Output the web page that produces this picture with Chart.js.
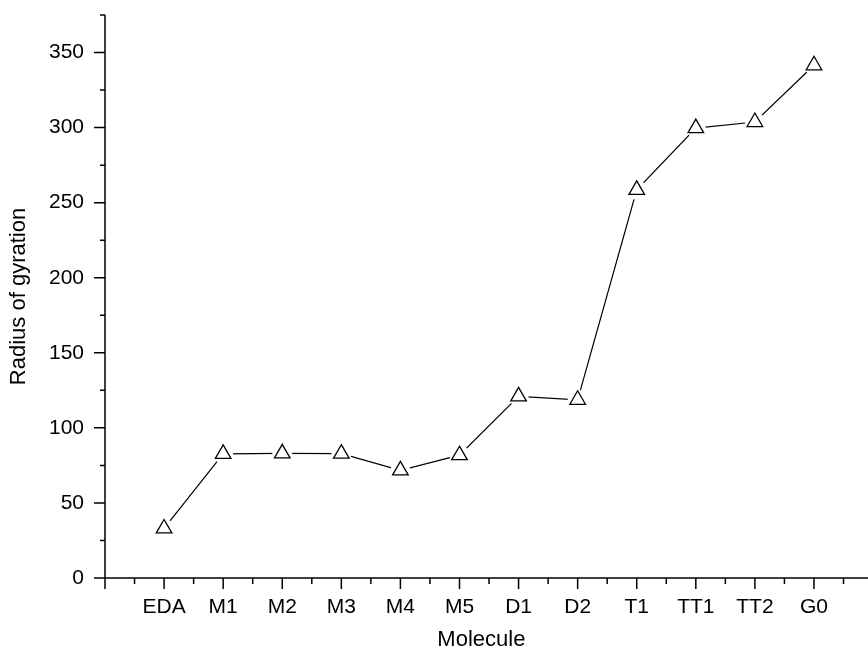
<!DOCTYPE html>
<html>
<head>
<meta charset="utf-8">
<script src="https://cdn.jsdelivr.net/npm/chart.js@4/dist/chart.umd.min.js"></script>
<style>
  html, body { margin: 0; padding: 0; background: #ffffff; }
  canvas { display: block; }
</style>
</head>
<body>
<canvas id="chart" width="868" height="650"></canvas>
<script>
// Radius of gyration for each molecule in the series
const molecules = ['EDA', 'M1', 'M2', 'M3', 'M4', 'M5', 'D1', 'D2', 'T1', 'TT1', 'TT2', 'G0'];
const radiusOfGyration = [33, 82.7, 83, 82.8, 71.7, 81.8, 121, 118.7, 258.5, 299.7, 303.7, 341.5];
const yMajorTicks = [0, 50, 100, 150, 200, 250, 300, 350];
const yMinorTicks = [25, 75, 125, 175, 225, 275, 325, 375];

const FONT = '"Liberation Sans", Arial, Helvetica, sans-serif';
const points = molecules.map((_, i) => ({ x: i, y: radiusOfGyration[i] }));

// Axis lines with outward major/minor tick marks, drawn from the chart's scales
const axisFrame = {
  id: 'axisFrame',
  afterDraw(chart) {
    const { ctx, scales: { x, y } } = chart;
    const x0 = x.getPixelForValue(-1);
    const y0 = y.getPixelForValue(0);
    const yTop = y.getPixelForValue(375);
    const xEnd = chart.width;
    ctx.save();
    ctx.strokeStyle = '#000000';
    ctx.lineWidth = 1.5;
    ctx.beginPath();
    ctx.moveTo(x0, yTop); ctx.lineTo(x0, y0);
    ctx.moveTo(x0, y0); ctx.lineTo(xEnd, y0);
    yMajorTicks.forEach(v => {
      const py = y.getPixelForValue(v);
      ctx.moveTo(x0 - 11, py); ctx.lineTo(x0, py);
    });
    yMinorTicks.forEach(v => {
      const py = y.getPixelForValue(v);
      ctx.moveTo(x0 - 5, py); ctx.lineTo(x0, py);
    });
    for (let i = -1; i < molecules.length; i++) {
      const px = x.getPixelForValue(i);
      ctx.moveTo(px, y0); ctx.lineTo(px, y0 + 11);
      const pm = x.getPixelForValue(i + 0.5);
      if (pm <= xEnd) { ctx.moveTo(pm, y0); ctx.lineTo(pm, y0 + 6); }
    }
    ctx.stroke();
    ctx.restore();
  }
};

new Chart(document.getElementById('chart'), {
  type: 'line',
  data: {
    datasets: [
      {
        // connecting line
        data: points,
        borderColor: '#000000',
        borderWidth: 1.2,
        pointRadius: 0,
        fill: false,
        tension: 0,
        order: 3
      },
      {
        // white halo leaving a small gap between line and marker
        data: points,
        showLine: false,
        pointStyle: 'circle',
        pointRadius: 10,
        pointBorderWidth: 0,
        pointBackgroundColor: '#ffffff',
        pointBorderColor: '#ffffff',
        order: 2
      },
      {
        // open triangle markers
        data: points,
        showLine: false,
        pointStyle: 'triangle',
        pointRadius: 9,
        pointBorderWidth: 1.3,
        pointBackgroundColor: '#ffffff',
        pointBorderColor: '#000000',
        order: 1
      }
    ]
  },
  options: {
    responsive: false,
    animation: false,
    events: [],
    clip: false,
    layout: { padding: { top: 15, right: 0, bottom: 0, left: 0 } },
    plugins: { legend: { display: false }, tooltip: { enabled: false } },
    scales: {
      x: {
        type: 'linear',
        min: -1,
        max: 11.74,
        grid: { display: false, drawTicks: false },
        border: { display: false },
        afterBuildTicks: s => { s.ticks = molecules.map((_, i) => ({ value: i })); },
        afterFit: s => { s.height = 72; s.paddingLeft = 0; s.paddingRight = 0; },
        ticks: {
          autoSkip: false,
          maxRotation: 0,
          padding: 16.4,
          color: '#000000',
          font: { family: FONT, size: 21 },
          callback: v => molecules[v] ?? ''
        },
        title: {
          display: true,
          text: 'Molecule',
          color: '#000000',
          font: { family: FONT, size: 22, lineHeight: 0.9 },
          padding: { top: 0, bottom: 0 }
        }
      },
      y: {
        type: 'linear',
        min: 0,
        max: 375,
        grid: { display: false, drawTicks: false },
        border: { display: false },
        afterBuildTicks: s => { s.ticks = yMajorTicks.map(v => ({ value: v })); },
        afterFit: s => { s.width = 105; s.paddingTop = 0; s.paddingBottom = 0; },
        ticks: {
          padding: 21,
          color: '#000000',
          font: { family: FONT, size: 21 }
        },
        title: {
          display: true,
          text: 'Radius of gyration',
          color: '#000000',
          font: { family: FONT, size: 22, lineHeight: 0.9 },
          padding: { top: 9.5, bottom: 0 }
        }
      }
    }
  },
  plugins: [axisFrame]
});
</script>
</body>
</html>
